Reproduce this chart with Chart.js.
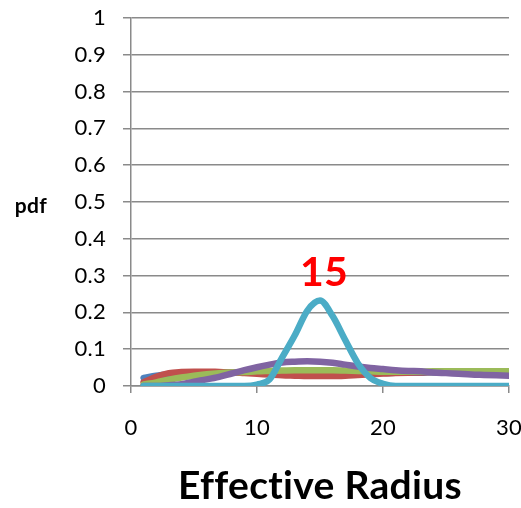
<!DOCTYPE html>
<html>
<head>
<meta charset="utf-8">
<script src="https://cdn.jsdelivr.net/npm/chart.js@4.4.0/dist/chart.umd.min.js"></script>
<style>
    html, body { margin: 0; padding: 0; background: #fff; }
    #wrap { width: 521px; height: 508px; }
</style>
</head>
<body>
<div id="wrap"><canvas id="pdfChart" width="521" height="508"></canvas></div>
<script>
// effective radius samples
const radius = [1, 2, 3, 4, 5, 6, 7, 8, 9, 10, 11, 12, 13, 14, 15, 16, 17, 18, 19, 20, 21, 22, 23, 24, 25, 26, 27, 28, 29, 30];

// pdf curves
const pdfBlue = [0.022, 0.028, 0.032, 0.035, 0.036, 0.036, 0.036, 0.036, 0.036, 0.036, 0.036, 0.035, 0.035, 0.035, 0.035, 0.035, 0.035, 0.035, 0.035, 0.035, 0.036, 0.036, 0.036, 0.037, 0.037, 0.037, 0.037, 0.037, 0.037, 0.037];
const pdfRed = [0.01, 0.025, 0.035, 0.038, 0.039, 0.039, 0.038, 0.037, 0.035, 0.033, 0.031, 0.029, 0.028, 0.027, 0.027, 0.027, 0.028, 0.03, 0.032, 0.034, 0.035, 0.036, 0.037, 0.038, 0.038, 0.039, 0.039, 0.039, 0.039, 0.039];
const pdfGreen = [0.004, 0.01, 0.017, 0.023, 0.028, 0.032, 0.035, 0.037, 0.038, 0.04, 0.041, 0.042, 0.043, 0.043, 0.043, 0.043, 0.042, 0.041, 0.04, 0.039, 0.039, 0.039, 0.039, 0.04, 0.04, 0.04, 0.04, 0.04, 0.04, 0.04];
const pdfPurple = [0, 0, 0.002, 0.005, 0.012, 0.018, 0.025, 0.034, 0.043, 0.051, 0.058, 0.064, 0.066, 0.067, 0.066, 0.063, 0.058, 0.053, 0.049, 0.046, 0.043, 0.041, 0.04, 0.037, 0.035, 0.033, 0.031, 0.03, 0.029, 0.028];
const pdfCyan = [0, 0, 0, 0, 0, 0, 0, 0, 0, 0.004, 0.018, 0.078, 0.138, 0.205, 0.232, 0.19, 0.125, 0.062, 0.022, 0.006, 0, 0, 0, 0, 0, 0, 0, 0, 0, 0];

// axis ticks
const xTicks = [0, 10, 20, 30];
const yTickLabels = ['0', '0.1', '0.2', '0.3', '0.4', '0.5', '0.6', '0.7', '0.8', '0.9', '1'];
const peakLabel = '15';
const peakRadius = 15;

const gridGray = '#8a8a8a';

function toPoints(values) {
    return radius.map(function (r, i) { return { x: r, y: values[i] }; });
}

function makeSet(label, values, color, order) {
    return {
        label: label,
        data: toPoints(values),
        borderColor: color,
        backgroundColor: color,
        borderWidth: 6.5,
        pointRadius: 0,
        cubicInterpolationMode: 'monotone',
        borderCapStyle: 'round',
        borderJoinStyle: 'round',
        fill: false,
        order: order
    };
}

// "pdf" caption and the peak label
const annotate = {
    id: 'annotate',
    beforeDraw: function (chart) {
        // small spacing keeps Lato from joining "ti"
        chart.ctx.letterSpacing = '0.3px';
    },
    afterDraw: function (chart) {
        const ctx = chart.ctx;
        const area = chart.chartArea;
        const xs = chart.scales.x;
        const ys = chart.scales.y;
        ctx.save();
        ctx.fillStyle = '#000';
        ctx.font = 'bold 21px Lato';
        ctx.textAlign = 'center';
        ctx.textBaseline = 'middle';
        ctx.fillText('pdf', 31, (area.top + area.bottom) / 2 + 4);

        const i = radius.indexOf(peakRadius);
        const px = xs.getPixelForValue(peakRadius);
        const py = ys.getPixelForValue(pdfCyan[i]);
        ctx.fillStyle = '#ff0000';
        ctx.font = 'bold 41px Lato';
        ctx.textBaseline = 'alphabetic';
        ctx.fillText(peakLabel, px + 4, py - 15);
        ctx.restore();
    }
};

const ctx = document.getElementById('pdfChart');
const config = {
    type: 'line',
    data: {
        datasets: [
            makeSet('a', pdfBlue, '#4F81BD', 4),
            makeSet('b', pdfRed, '#C0504D', 3),
            makeSet('c', pdfGreen, '#9BBB59', 2),
            makeSet('d', pdfPurple, '#8064A2', 1),
            makeSet('e', pdfCyan, '#4BACC6', 0)
        ]
    },
    options: {
        responsive: false,
        animation: false,
        layout: { padding: { top: 18, right: 12, left: 0, bottom: 0 } },
        plugins: {
            legend: { display: false },
            tooltip: { enabled: false }
        },
        scales: {
            x: {
                type: 'linear',
                min: 0,
                max: 30,
                afterBuildTicks: function (scale) {
                    scale.ticks = xTicks.map(function (v) { return { value: v }; });
                },
                afterFit: function (scale) {
                    scale.height = 122;
                    scale.paddingLeft = 0;
                    scale.paddingRight = 0;
                },
                ticks: {
                    color: '#000',
                    font: { family: 'Lato', size: 22 },
                    padding: 22,
                    maxRotation: 0
                },
                grid: {
                    drawOnChartArea: false,
                    drawTicks: true,
                    tickLength: 7,
                    color: gridGray,
                    lineWidth: 1.5
                },
                border: { color: gridGray, width: 1.5 },
                title: {
                    display: true,
                    text: 'Effective Radius',
                    color: '#000',
                    font: { family: 'Lato', size: 39, weight: 'bold' },
                    padding: { top: 0, bottom: -2 }
                }
            },
            y: {
                min: 0,
                max: 1,
                afterFit: function (scale) {
                    scale.width = 131;
                    scale.paddingTop = 0;
                    scale.paddingBottom = 0;
                },
                ticks: {
                    stepSize: 0.1,
                    color: '#000',
                    font: { family: 'Lato', size: 22 },
                    padding: 17,
                    callback: function (value, index) { return yTickLabels[index]; }
                },
                grid: {
                    color: gridGray,
                    lineWidth: 1.5,
                    tickLength: 8
                },
                border: { color: gridGray, width: 1.5 }
            }
        }
    },
    plugins: [annotate]
};

new Chart(ctx, config);
</script>
</body>
</html>
